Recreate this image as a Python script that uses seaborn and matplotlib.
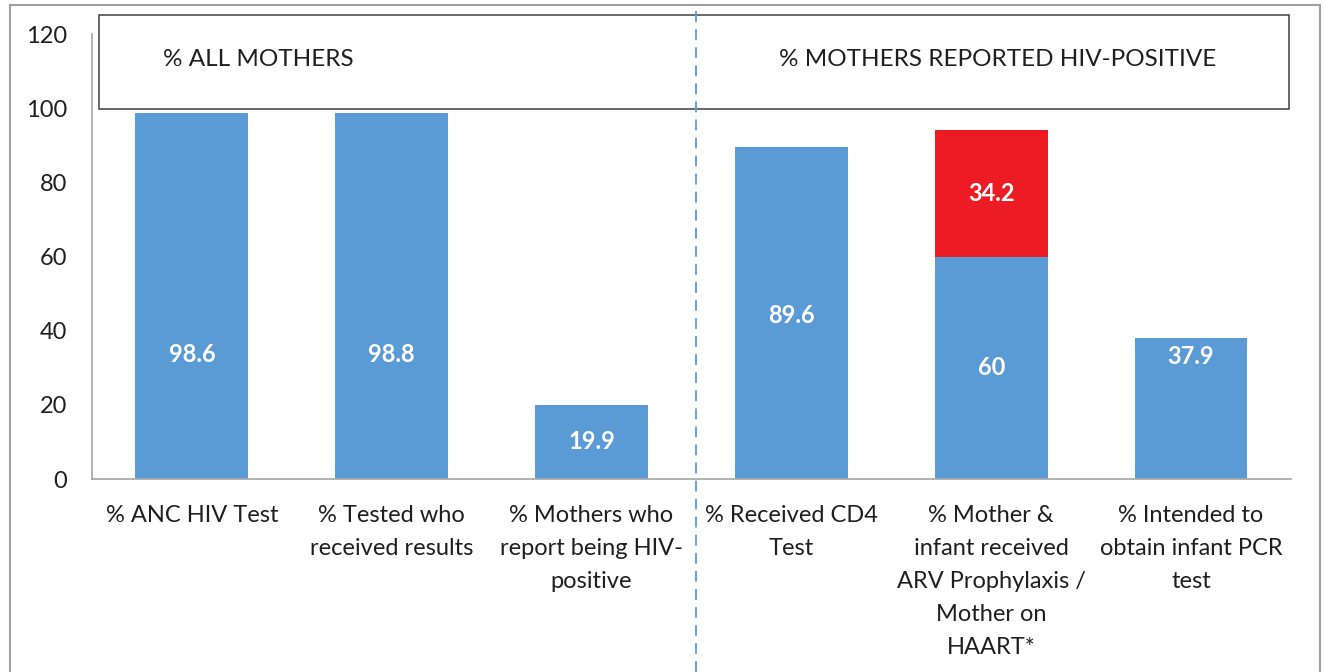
import matplotlib
matplotlib.use("Agg")
import matplotlib.pyplot as plt
import matplotlib.transforms as mtransforms
from matplotlib.patches import Rectangle
from matplotlib.lines import Line2D
import seaborn as sns
import pandas as pd

# data
categories = [
    "% ANC HIV Test",
    "% Tested who\nreceived results",
    "% Mothers who\nreport being HIV-\npositive",
    "% Received CD4\nTest",
    "% Mother &\ninfant received\nARV Prophylaxis /\nMother on\nHAART*",
    "% Intended to\nobtain infant PCR\ntest",
]
base_values = [98.6, 98.8, 19.9, 89.6, 60, 37.9]
extra_values = [0, 0, 0, 0, 34.2, 0]
# heights where the value labels sit in the reference
label_y = [33.5, 33.5, 10, 44, 30, 33]
extra_label_y = [0, 0, 0, 0, 77, 0]
groups = ["% ALL MOTHERS", "% MOTHERS REPORTED HIV-POSITIVE"]

BLUE = "#5B9BD5"
RED = "#ED1C24"
GRAY = "#A6A6A6"
TXT = "#1F1F1F"

sns.set_theme(style="white")
plt.rcParams["font.family"] = ["Lato", "DejaVu Sans"]

df = pd.DataFrame({"cat": categories, "base": base_values, "extra": extra_values})

fig = plt.figure(figsize=(13.25, 6.72), dpi=100)
ax = fig.add_axes([0.0694, 0.2872, 0.9049, 0.6622])

sns.barplot(data=df, x="cat", y="base", color=BLUE, saturation=1, width=0.565,
            linewidth=0, ax=ax)
ax.bar(range(len(categories)), df["extra"], bottom=df["base"], width=0.565,
       color=RED, linewidth=0)

for i, v in enumerate(base_values):
    ax.text(i, label_y[i], f"{v:g}", ha="center", va="center", color="white",
            fontsize=17, fontweight="bold")
for i, v in enumerate(extra_values):
    if v:
        ax.text(i, extra_label_y[i], f"{v:g}", ha="center", va="center", color="white",
                fontsize=17, fontweight="bold")

ax.set_ylim(0, 120)
ax.set_xlim(-0.5, len(categories) - 0.5)
ax.set_yticks(range(0, 121, 20))
ax.set_xlabel("")
ax.set_ylabel("")
ax.tick_params(axis="y", labelsize=17, colors=TXT, length=0, pad=18)
ax.tick_params(axis="x", labelsize=17, colors=TXT, length=0, pad=19)
for lab in ax.get_xticklabels():
    lab.set_linespacing(1.7)

for side in ["top", "right"]:
    ax.spines[side].set_visible(False)
for side in ["left", "bottom"]:
    ax.spines[side].set_color(GRAY)
    ax.spines[side].set_linewidth(1.2)

# header box across the top of the plot
ax.add_patch(Rectangle((0.006, 0.831), 0.992, 0.211, transform=ax.transAxes,
                       facecolor="white", edgecolor="#404040", lw=1.1,
                       clip_on=False, zorder=5))
ax.text(0.33, 113, groups[0], ha="center", va="center", fontsize=17.5, color=TXT, zorder=6)
ax.text(4.03, 113, groups[1], ha="center", va="center", fontsize=17.5, color=TXT, zorder=6)

# dashed divider between the two groups
trans = mtransforms.blended_transform_factory(ax.transData, fig.transFigure)
fig.add_artist(Line2D([2.525, 2.525], [0, 0.993], transform=trans, color=BLUE,
                      lw=1.3, ls=(0, (6, 4)), zorder=7))

# outer frame
fig.add_artist(Rectangle((10 / 1325, -0.05), 1310 / 1325, 1.043, transform=fig.transFigure,
                         facecolor="none", edgecolor="#A0A0A0", lw=1.5))

fig.savefig("out.png", dpi=100)
